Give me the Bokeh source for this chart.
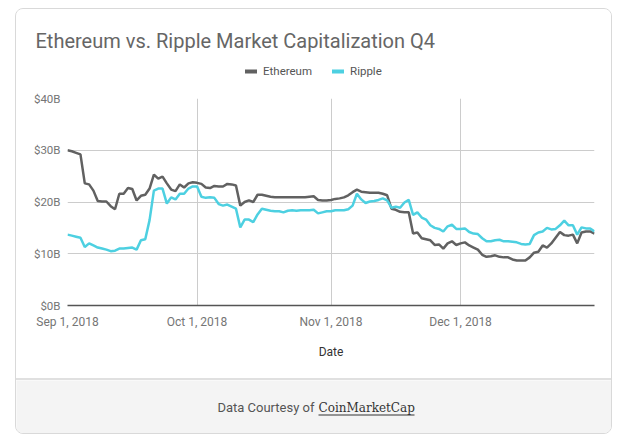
import datetime as dt
from bokeh.plotting import figure
from bokeh.models import (Range1d, FixedTicker, PrintfTickFormatter, DatetimeTickFormatter,
                          Legend, LegendItem, ColumnDataSource, Label)
from bokeh.layouts import column
from bokeh.embed import file_html
from bokeh.resources import INLINE

# ---------------- data (market cap, $B, daily from Sep 1, 2018) ----------------
start_date = dt.datetime(2018, 9, 1)
ethereum = [
    30.0, 29.8, 29.5, 29.2, 23.6, 23.4, 22.2, 20.2, 20.1, 20.1,
    19.2, 18.6, 21.6, 21.6, 22.7, 22.5, 20.3, 21.2, 21.4, 22.6,
    25.3, 24.5, 24.9, 23.6, 22.4, 22.1, 23.4, 22.8, 23.6, 23.8,
    23.7, 23.5, 22.8, 22.7, 23.1, 23.0, 23.0, 23.5, 23.4, 23.2,
    19.3, 20.0, 20.3, 20.0, 21.4, 21.4, 21.2, 21.0, 20.9, 20.9,
    20.9, 20.9, 20.9, 20.9, 20.9, 20.9, 21.0, 21.1, 20.4, 20.3,
    20.3, 20.4, 20.6, 20.7, 20.9, 21.3, 21.9, 22.4, 22.0, 21.9,
    21.8, 21.8, 21.8, 21.6, 21.3, 18.7, 18.5, 18.1, 18.0, 18.0,
    13.9, 14.1, 13.0, 12.8, 12.6, 11.7, 11.8, 11.0, 12.0, 12.4,
    11.7, 12.0, 12.2, 11.6, 11.2, 10.8, 9.8, 9.4, 9.5, 9.7,
    9.4, 9.3, 9.3, 8.9, 8.7, 8.7, 8.7, 9.3, 10.2, 10.4,
    11.6, 11.2, 12.0, 13.1, 14.2, 13.6, 13.5, 13.7, 12.0, 14.1,
    14.3, 14.3, 13.9,
]
ripple = [
    13.7, 13.5, 13.3, 13.1, 11.3, 12.0, 11.6, 11.2, 11.0, 10.8,
    10.5, 10.6, 11.0, 11.0, 11.1, 11.2, 10.8, 12.6, 12.8, 16.5,
    22.2, 22.6, 22.6, 19.7, 20.9, 20.5, 21.6, 21.6, 22.6, 23.0,
    23.0, 21.0, 20.8, 20.9, 20.8, 19.6, 19.3, 19.5, 19.1, 18.7,
    15.1, 16.6, 16.6, 16.1, 17.6, 18.7, 18.5, 18.3, 18.2, 18.2,
    18.0, 18.3, 18.4, 18.3, 18.4, 18.4, 18.4, 18.5, 17.8, 18.0,
    18.2, 18.2, 18.4, 18.4, 18.4, 18.6, 19.3, 21.6, 20.5, 19.8,
    20.1, 20.2, 20.4, 20.7, 20.3, 18.9, 19.1, 18.9, 19.9, 20.4,
    17.5, 18.0, 17.0, 16.6, 15.5, 15.0, 14.8, 14.3, 15.3, 15.6,
    14.8, 14.8, 14.9, 14.2, 13.9, 13.8, 13.0, 12.4, 12.4, 12.6,
    12.7, 12.4, 12.4, 12.3, 12.2, 11.9, 11.8, 11.9, 13.6, 14.1,
    14.3, 15.0, 14.7, 14.8, 15.5, 16.4, 15.5, 15.5, 13.7, 15.1,
    14.9, 14.9, 14.3,
]
dates = [start_date + dt.timedelta(days=i) for i in range(len(ethereum))]
series_names = ["Ethereum", "Ripple"]
series_colors = ["#616161", "#4dd0e1"]
y_ticks = [0, 10, 20, 30, 40]
x_tick_dates = [dt.datetime(2018, 9, 1), dt.datetime(2018, 10, 1),
                dt.datetime(2018, 11, 1), dt.datetime(2018, 12, 1)]
title_text = "Ethereum vs. Ripple Market Capitalization Q4"
x_label = "Date"
footer_prefix = "Data Courtesy of"
footer_link = "CoinMarketCap"

EPOCH = dt.datetime(1970, 1, 1)


def ms(d):
    return (d - EPOCH).total_seconds() * 1000.0


FONT = "Roboto"
W = 595
BL, BR = 51, 17


def panel(height, bg):
    fig = figure(width=W, height=height, output_backend="svg", toolbar_location=None,
                 x_range=Range1d(0, W), y_range=Range1d(0, height),
                 x_axis_location=None, y_axis_location=None, min_border=0,
                 background_fill_color=bg, border_fill_color=bg, outline_line_color=None)
    fig.grid.visible = False
    fig.frame_align = False
    return fig


# ---------------- header: title + legend ----------------
h = panel(80, "white")
h.add_layout(Label(x=19, y=49, text=title_text, text_align="left", text_baseline="middle",
                   text_font=FONT, text_font_size="20px", text_color="#666666"))

# legend swatches (no real data; only their style is shown in the legend)
nan = float("nan")
sw_eth = h.line(x=[nan], y=[nan], line_color=series_colors[0], line_width=4, line_cap="round")
sw_rip = h.line(x=[nan], y=[nan], line_color=series_colors[1], line_width=4, line_cap="round")
legend = Legend(items=[LegendItem(label=series_names[0], renderers=[sw_eth]),
                       LegendItem(label=series_names[1], renderers=[sw_rip])],
                orientation="horizontal", location=(229, 11),
                glyph_width=12, glyph_height=14, label_standoff=6, spacing=20,
                padding=0, margin=0, border_line_color=None, background_fill_alpha=0,
                label_text_font=FONT, label_text_font_size="11.5px",
                label_text_color="#555555", label_height=14)
h.add_layout(legend)

# ---------------- main chart ----------------
p = figure(width=W, height=289, x_axis_type="datetime", output_backend="svg",
           toolbar_location=None,
           x_range=Range1d(ms(dates[0]), ms(dates[-1])), y_range=Range1d(0, 40),
           min_border_left=BL, min_border_right=BR, min_border_top=9, min_border_bottom=73,
           background_fill_color="white", border_fill_color="white",
           outline_line_color=None)

source = ColumnDataSource(dict(date=dates, ethereum=ethereum, ripple=ripple))
p.line("date", "ethereum", source=source, line_color=series_colors[0], line_width=2.5)
p.line("date", "ripple", source=source, line_color=series_colors[1], line_width=2.5)

p.yaxis.ticker = FixedTicker(ticks=y_ticks)
p.yaxis.formatter = PrintfTickFormatter(format="$%dB")
p.yaxis.axis_line_color = None
p.yaxis.major_tick_line_color = None
p.yaxis.minor_tick_line_color = None
p.yaxis.major_label_standoff = 1
p.yaxis.major_label_text_font = FONT
p.yaxis.major_label_text_font_size = "11.5px"
p.yaxis.major_label_text_color = "#757575"

x_fmt = "%b %-d, %Y"
p.xaxis.ticker = FixedTicker(ticks=[ms(d) for d in x_tick_dates])
p.xaxis.formatter = DatetimeTickFormatter(days=x_fmt, months=x_fmt, years=x_fmt,
                                          hours=x_fmt, minutes=x_fmt)
p.xaxis.axis_line_color = "#555555"
p.xaxis.axis_line_width = 1.6
p.xaxis.major_tick_line_color = None
p.xaxis.minor_tick_line_color = None
p.xaxis.major_label_standoff = 3
p.xaxis.major_label_text_font = FONT
p.xaxis.major_label_text_font_size = "12px"
p.xaxis.major_label_text_color = "#757575"
p.xaxis.axis_label = x_label
p.xaxis.axis_label_text_font = FONT
p.xaxis.axis_label_text_font_size = "12px"
p.xaxis.axis_label_text_font_style = "normal"
p.xaxis.axis_label_text_color = "#333333"
p.xaxis.axis_label_standoff = 13

p.xgrid.ticker = FixedTicker(ticks=[ms(d) for d in x_tick_dates])
p.ygrid.ticker = FixedTicker(ticks=y_ticks)
p.grid.grid_line_color = "#cccccc"
p.grid.grid_line_width = 1

# ---------------- footer ----------------
f = panel(55, "#f4f4f4")
f.styles = {"border-top": "2px solid #e0e0e0"}
f.add_layout(Label(x=298, y=28, text=footer_prefix, text_align="right", text_baseline="middle",
                   text_font=FONT, text_font_size="13px", text_color="#555555"))
f.add_layout(Label(x=302, y=28, text=footer_link, text_align="left", text_baseline="middle",
                   text_font="DejaVu Serif", text_font_size="12px", text_color="#333333"))
f.segment(x0=[302], y0=[20.5], x1=[398], y1=[20.5], line_color="#333333", line_width=1)

card = column(h, p, f, margin=(8, 0, 0, 15), spacing=0,
              styles={"border": "1px solid #d9d9d9", "border-radius": "8px",
                      "overflow": "hidden"})

open("out.html", "w").write(file_html(card, INLINE))
